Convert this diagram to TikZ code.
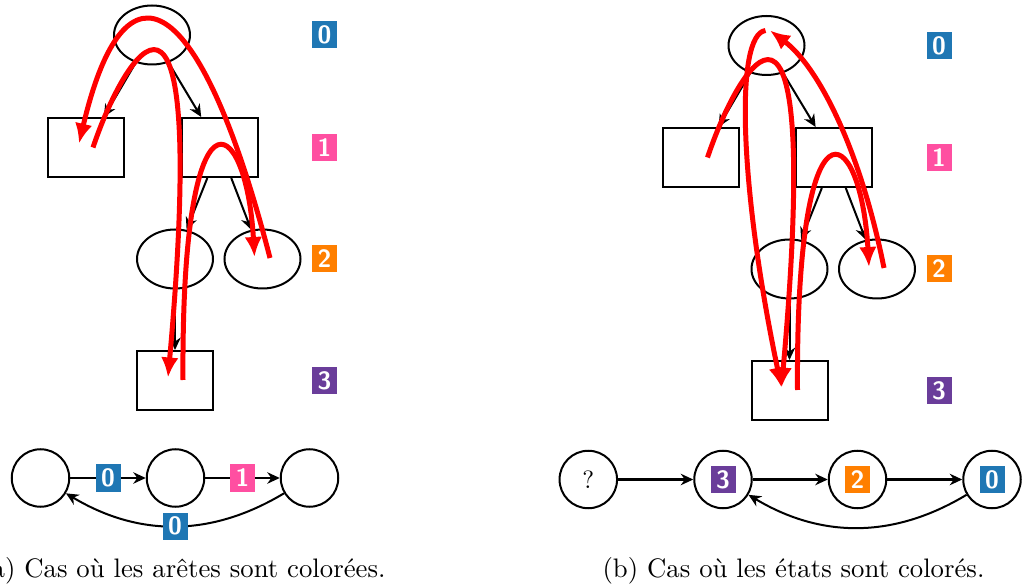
\documentclass[tikz,border=0pt]{standalone}
\usepackage{tikz}
\usetikzlibrary{arrows.meta, positioning, shapes.geometric, calc}

\definecolor{lvlzero}{RGB}{31,119,180}
\definecolor{lvlone}{RGB}{255,79,161}
\definecolor{lvltwo}{RGB}{255,127,0}
\definecolor{lvlthree}{RGB}{106,61,154}

\begin{document}
\begin{tikzpicture}[
    x=0.4pt, y=-0.4pt,
    % Tree states
    ellstate/.style={ellipse, draw, thick, minimum width=30.4pt, minimum height=23.6pt, inner sep=0pt},
    boxstate/.style={rectangle, draw, thick, minimum width=30.4pt, minimum height=23.6pt, inner sep=0pt},
    % Automaton states
    autstate/.style={circle, draw, thick, minimum size=23pt, inner sep=0pt},
    % Colour tags
    lvltag/.style={fill=#1, text=white, font=\sffamily\bfseries, inner sep=0pt,
      minimum width=10pt, minimum height=10.8pt},
    % Arrows
    treearr/.style={-{Stealth[length=5pt,width=4.6pt]}, thick},
    autarr/.style={-{Stealth[length=5pt,width=4.6pt]}, thick},
    walkarr/.style={red, line width=2pt, -{Latex[length=8pt,width=7pt]}},
    caption/.style={inner sep=0pt, font=\fontsize{10.7pt}{13pt}\selectfont}
  ]

  \useasboundingbox (0,0) rectangle (1027,585);

  % ============ (a) Tree ============
  \node[ellstate] (a0) at (152,35) {};
  \node[boxstate] (a1l) at (86,147.5) {};
  \node[boxstate] (a1r) at (219.5,147.5) {};
  \node[ellstate] (a2l) at (175,259) {};
  \node[ellstate] (a2r) at (262.5,259) {};
  \node[boxstate] (a3) at (175,380.5) {};

  \draw[treearr] (a0) -- (a1l);
  \draw[treearr] (a0) -- (a1r);
  \draw[treearr] (a1r) -- (a2l);
  \draw[treearr] (a1r) -- (a2r);
  \draw[treearr] (a2l) -- (a3);

  \node[lvltag=lvlzero] (la0) at (324.5,35) {0};
  \node[lvltag=lvlone] (la1) at (324.5,147.5) {1};
  \node[lvltag=lvltwo] (la2) at (324.5,259) {2};
  \node[lvltag=lvlthree] (la3) at (324.5,380.5) {3};

  % Walk through the leaves
  \draw[walkarr] ($(a1l)+(7,0)$) .. controls +(30,-90) and +(42,-470) .. ($(a3)+(-7,-3)$);
  \draw[walkarr] ($(a3)+(8,-0.5)$) .. controls +(-2,-305) and +(-8.5,-147) .. ($(a2r)+(-8,-2)$);
  \draw[walkarr] ($(a2r)+(7.5,-1)$) .. controls +(-70,-270) and +(46,-195) .. ($(a1l)+(-7,-4)$);

  % ============ (a) Automaton ============
  \node[autstate] (qa1) at (40.5,478) {};
  \node[autstate] (qa2) at (175.5,478) {};
  \node[autstate] (qa3) at (309.5,478) {};

  \draw[autarr] (qa1) -- node[lvltag=lvlzero] (ea1) {0} (qa2);
  \draw[autarr] (qa2) -- node[lvltag=lvlone] (ea2) {1} (qa3);
  \draw[autarr] (qa3) to[bend left=31] node[lvltag=lvlzero] (ea3) {0} (qa1);

  \node[caption, anchor=base east] (capa) at (386,577) {(a) Cas où les arêtes sont colorées.};

  % ============ (b) Tree ============
  \node[ellstate] (b0) at (766.5,45.5) {};
  \node[boxstate] (b1l) at (700.5,157.5) {};
  \node[boxstate] (b1r) at (834,157.5) {};
  \node[ellstate] (b2l) at (789.5,269) {};
  \node[ellstate] (b2r) at (877,269) {};
  \node[boxstate] (b3) at (789.5,390.5) {};

  \draw[treearr] (b0) -- (b1l);
  \draw[treearr] (b0) -- (b1r);
  \draw[treearr] (b1r) -- (b2l);
  \draw[treearr] (b1r) -- (b2r);
  \draw[treearr] (b2l) -- (b3);

  \node[lvltag=lvlzero] (lb0) at (939,45.5) {0};
  \node[lvltag=lvlone] (lb1) at (939,157.5) {1};
  \node[lvltag=lvltwo] (lb2) at (939,269) {2};
  \node[lvltag=lvlthree] (lb3) at (939,390.5) {3};

  % Walk through the leaves
  \draw[walkarr] ($(b1l)+(7,0)$) .. controls +(30,-90) and +(42,-470) .. ($(b3)+(-8,-3)$);
  \draw[walkarr] ($(b3)+(8,-0.5)$) .. controls +(-2,-305) and +(-8.5,-147) .. ($(b2r)+(-8,-2)$);
  \draw[walkarr] ($(b2r)+(7,-1)$) .. controls +(-24,-120) and +(48,36) .. ($(b0)+(3.5,-15)$);
  \draw[walkarr] ($(b0)+(-1,-15)$) .. controls +(-31,4) and +(-42,-200) .. ($(b3)+(-8,-3)$);

  % ============ (b) Automaton ============
  \node[autstate] (qb1) at (588.3,479.5) {?};
  \node[autstate] (qb2) at (723,479.5) {};
  \node[autstate] (qb3) at (857.5,479.5) {};
  \node[autstate] (qb4) at (992,479.5) {};
  \node[lvltag=lvlthree] (tb2) at (qb2) {3};
  \node[lvltag=lvltwo] (tb3) at (qb3) {2};
  \node[lvltag=lvlzero] (tb4) at (qb4) {0};

  \draw[autarr] (qb1) -- (qb2);
  \draw[autarr] (qb2) -- (qb3);
  \draw[autarr] (qb3) -- (qb4);
  \draw[autarr] (qb4) to[bend left=31] (qb2);

  \node[caption, anchor=base] (capb) at (793.5,577) {(b) Cas où les états sont colorés.};

\end{tikzpicture}
\end{document}
